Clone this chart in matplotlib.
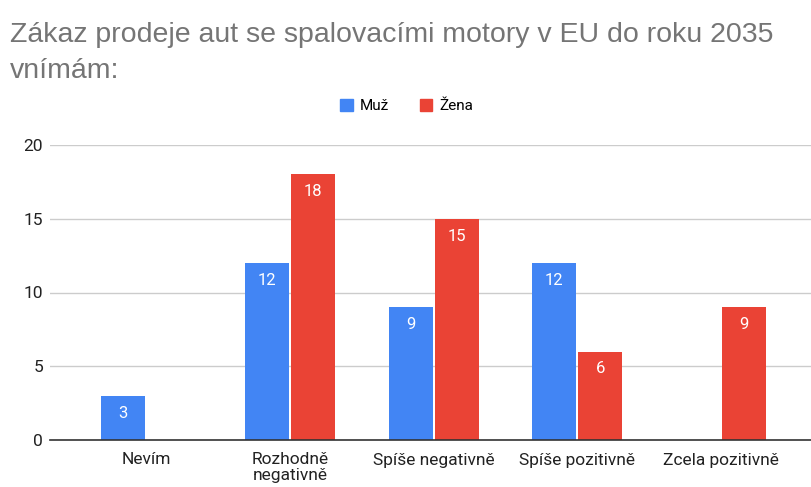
import numpy as np
import matplotlib.pyplot as plt

plt.rcParams['font.family'] = ['Roboto', 'DejaVu Sans']

categories = ["Nevím", "Rozhodně\nnegativně", "Spíše negativně", "Spíše pozitivně", "Zcela pozitivně"]
muz = [3, 12, 9, 12, 0]
zena = [0, 18, 15, 6, 9]
series_names = ["Muž", "Žena"]
colors = ["#4285f4", "#ea4335"]
title_lines = ["Zákaz prodeje aut se spalovacími motory v EU do roku 2035", "vnímám:"]

fig = plt.figure(figsize=(8.11, 4.87), dpi=100)
ax = fig.add_axes([50 / 811, 47 / 487, 761 / 811, 295 / 487])

x = np.arange(len(categories))
w = 0.306
off = 0.16
for vals, o, c in [(muz, -off, colors[0]), (zena, off, colors[1])]:
    bars = ax.bar(x + o, vals, width=w, color=c, zorder=3)
    for b, v in zip(bars, vals):
        if v > 0:
            ax.annotate(str(v), (b.get_x() + b.get_width() / 2, v), xytext=(0, -12.5),
                        textcoords="offset points", ha="center", va="center",
                        color="white", fontsize=12, zorder=4)

ax.set_xlim(-0.668, 4.626)
ax.set_ylim(0, 20)
ax.set_yticks([0, 5, 10, 15, 20])
ax.set_xticks(x)
ax.set_xticklabels(categories, fontsize=12.5, color="#222222", linespacing=1.05)
ax.tick_params(axis="y", labelsize=12.5, labelcolor="#222222", length=0, pad=5)
ax.tick_params(axis="x", length=0, pad=9)
ax.grid(axis="y", color="#cccccc", linewidth=1, zorder=0)
for s in ["top", "right", "left"]:
    ax.spines[s].set_visible(False)
ax.spines["bottom"].set_color("#333333")
ax.spines["bottom"].set_linewidth(1.2)
ax.spines["bottom"].set_zorder(5)

for line, base in zip(title_lines, [42, 78]):
    fig.text(10 / 811, 1 - base / 487, line, fontsize=20.5, color="#757575",
             family="Liberation Sans", ha="left", va="baseline")

handles = [plt.Rectangle((0, 0), 1, 1, color=c) for c in colors]
fig.legend(handles, series_names, loc="center", bbox_to_anchor=(407 / 811, 1 - 106 / 487),
           ncol=2, frameon=False, fontsize=11, handlelength=0.8, handleheight=0.8,
           handletextpad=0.5, columnspacing=2.0)

fig.savefig("out.png", dpi=100)
